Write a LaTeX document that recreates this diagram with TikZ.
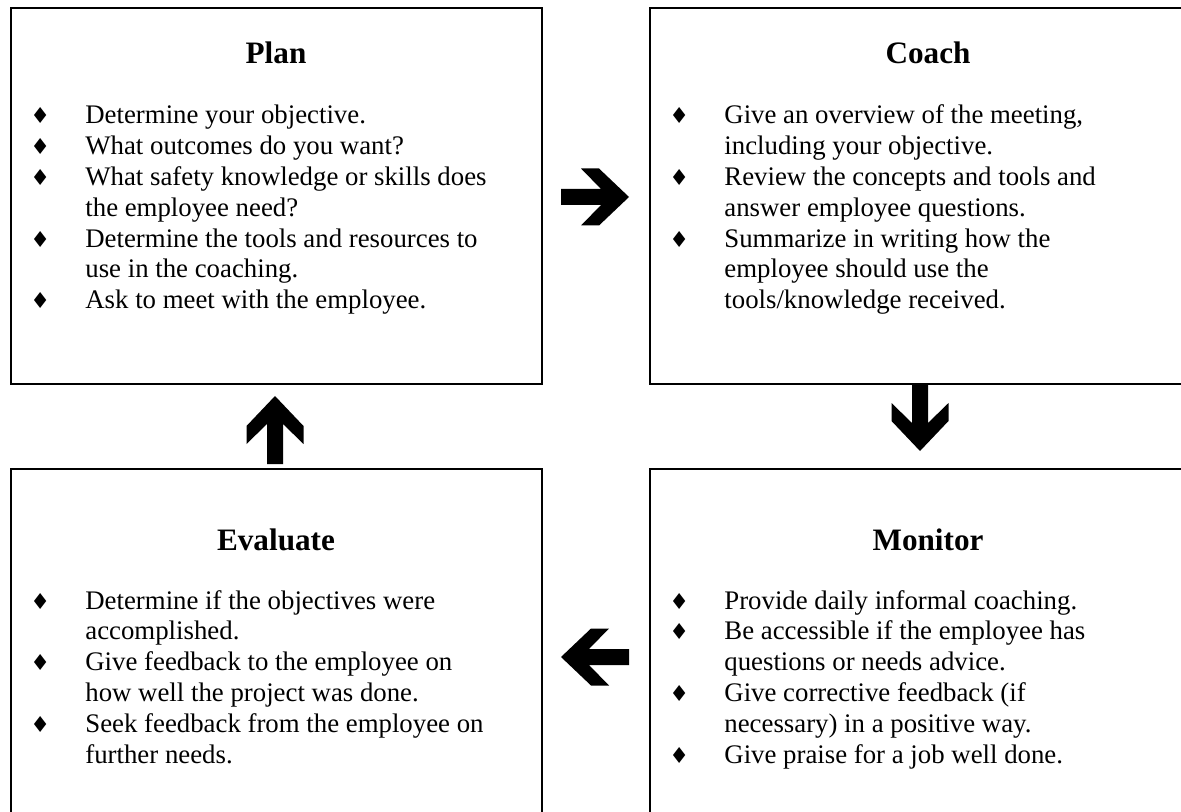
\documentclass[tikz,border=0pt]{standalone}
\usepackage{fontspec}
\setmainfont{Liberation Serif}
\newfontfamily\symfont{DejaVu Sans}

\tikzset{
  every node/.style={inner sep=0pt, font=\fontsize{13.4pt}{15.4pt}\selectfont},
  panel/.style={draw, line width=1pt, minimum width=265.5pt, minimum height=188pt, anchor=north west},
  paneltitle/.style={font=\fontsize{15.6pt}{18pt}\selectfont\bfseries, anchor=base},
  paneltext/.style={anchor=base west, align=left},
  blockarrow/.pic={
    \fill (0,8) -- (40,8) -- (20,28.5) -- (38,28.5) -- (68,0)
      -- (38,-28.5) -- (20,-28.5) -- (40,-8) -- (0,-8) -- cycle;
  }
}
\newcommand{\dia}{{\symfont\fontsize{11pt}{11pt}\selectfont ♦}}
\newenvironment{steps}{\begin{tabular}[t]{@{}p{27.5pt}@{}l@{}}}{\end{tabular}}

\begin{document}
\begin{tikzpicture}[x=0.5pt,y=-0.5pt]
  \useasboundingbox (0,0) rectangle (1181,812);

  % the four panels
  \node[panel] (plan) at (10,7) {};
  \node[panel, minimum width=280pt] (coach) at (649,7) {};
  \node[panel] (evaluate) at (10,468) {};
  \node[panel, minimum width=280pt] (monitor) at (649,468) {};

  % plan
  \node[paneltitle] (plantitle) at (276,64) {Plan};
  \node[paneltext] (plantext) at (30,124) {\begin{steps}
    \dia & Determine your objective.\\
    \dia & What outcomes do you want?\\
    \dia & What safety knowledge or skills does\\
         & the employee need?\\
    \dia & Determine the tools and resources to\\
         & use in the coaching.\\
    \dia & Ask to meet with the employee.
  \end{steps}};

  % coach
  \node[paneltitle] (coachtitle) at (928,64) {Coach};
  \node[paneltext] (coachtext) at (669,124) {\begin{steps}
    \dia & Give an overview of the meeting,\\
         & including your objective.\\
    \dia & Review the concepts and tools and\\
         & answer employee questions.\\
    \dia & Summarize in writing how the\\
         & employee should use the\\
         & tools/knowledge received.
  \end{steps}};

  % evaluate
  \node[paneltitle] (evaluatetitle) at (276,550) {Evaluate};
  \node[paneltext] (evaluatetext) at (30,609) {\begin{steps}
    \dia & Determine if the objectives were\\
         & accomplished.\\
    \dia & Give feedback to the employee on\\
         & how well the project was done.\\
    \dia & Seek feedback from the employee on\\
         & further needs.
  \end{steps}};

  % monitor
  \node[paneltitle] (monitortitle) at (928,550) {Monitor};
  \node[paneltext] (monitortext) at (669,609) {\begin{steps}
    \dia & Provide daily informal coaching.\\
    \dia & Be accessible if the employee has\\
         & questions or needs advice.\\
    \dia & Give corrective feedback (if\\
         & necessary) in a positive way.\\
    \dia & Give praise for a job well done.
  \end{steps}};

  % arrows between the panels
  \coordinate (toCoach) at (561,197);
  \coordinate (toMonitor) at (920,383);
  \coordinate (toEvaluate) at (629,657);
  \coordinate (toPlan) at (275,464);
  \pic at (toCoach) {blockarrow};
  \pic[rotate=-90] at (toMonitor) {blockarrow};
  \pic[rotate=180] at (toEvaluate) {blockarrow};
  \pic[rotate=90] at (toPlan) {blockarrow};
\end{tikzpicture}
\end{document}
